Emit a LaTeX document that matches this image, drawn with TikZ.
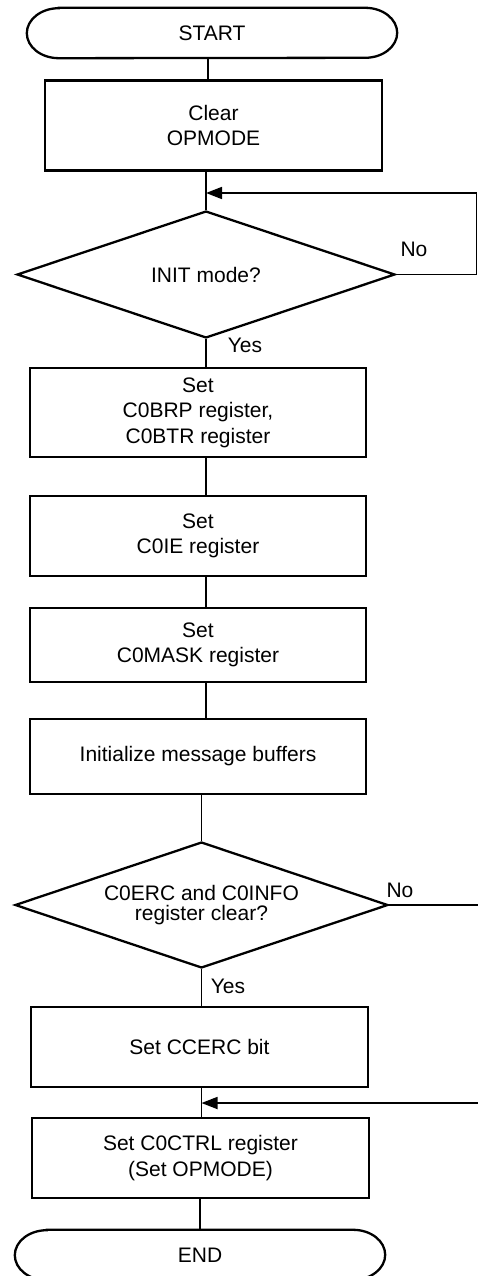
\documentclass[tikz,border=0pt]{standalone}
\usepackage{fontspec}
\setmainfont{Liberation Sans}
\usetikzlibrary{shapes.geometric,arrows.meta,calc}
\newcommand{\fsz}{\fontsize{21pt}{25.5pt}\selectfont}
\newcommand{\fszd}{\fontsize{21pt}{20pt}\selectfont}
\begin{document}
\begin{tikzpicture}[x=1pt,y=-1pt,
  box/.style={draw,line width=2.3pt,inner sep=0pt,align=center,font=\fsz},
  term/.style={inner sep=0pt,font=\fsz},
  termline/.style={line width=2.3pt},
  dec/.style={draw,diamond,aspect=3,line width=2.3pt,inner sep=0pt,align=center,font=\fszd},
  conn/.style={line width=1.1pt},
  back/.style={line width=1.7pt},
  tip/.style={-{Triangle[length=16pt,width=12pt]}},
  lbl/.style={inner sep=0pt,font=\fsz}]
\useasboundingbox (0,0) rectangle (478,1276);
\clip (0,0) rectangle (478,1276);

% terminals
\node[term,minimum width=370pt,minimum height=50pt] (start) at (212,33) {START};
\draw[termline] ($(start.north west)+(32,0)$) -- ($(start.north east)+(-32,0)$)
  arc[start angle=90,end angle=-90,x radius=32pt,y radius=25pt]
  -- ($(start.south west)+(32,0)$)
  arc[start angle=270,end angle=90,x radius=32pt,y radius=25pt] -- cycle;

\node[box,minimum width=337pt,minimum height=90pt] (clear) at (213.5,125.5) {Clear\\OPMODE};
\node[dec,minimum width=378pt,minimum height=127pt] (d1) at (206,274.5) {INIT mode?};
\node[box,minimum width=336pt,minimum height=89pt] (brp) at (198,412.5) {Set\\C0BRP register,\\C0BTR register};
\node[box,minimum width=336pt,minimum height=80pt] (ie) at (198,536) {Set\\C0IE register};
\node[box,minimum width=336pt,minimum height=74pt] (mask) at (198,645) {Set\\C0MASK register};
\node[box,minimum width=336pt,minimum height=75pt] (init) at (198,756.5) {Initialize message buffers};
\node[dec,minimum width=373pt,minimum height=126pt] (d2) at (201.5,905) {C0ERC and C0INFO\\register clear?};
\node[box,minimum width=337pt,minimum height=80pt] (ccerc) at (199.5,1047) {Set CCERC bit};
\node[box,minimum width=337pt,minimum height=80pt] (ctrl) at (200.5,1158) {Set C0CTRL register\\(Set OPMODE)};
\node[term,minimum width=370pt,minimum height=50pt] (endn) at (200,1255) {END};
\draw[termline] ($(endn.north west)+(32,0)$) -- ($(endn.north east)+(-32,0)$)
  arc[start angle=90,end angle=-90,x radius=32pt,y radius=25pt]
  -- ($(endn.south west)+(32,0)$)
  arc[start angle=270,end angle=90,x radius=32pt,y radius=25pt] -- cycle;

% connectors
\draw[conn] (start.south -| 208,0) -- (clear.north -| 208,0);
\draw[conn] (clear.south -| d1.north) -- (d1.north);
\draw[conn] (d1.south) -- (d1.south |- brp.north);
\draw[conn] (brp.south -| d1.south) -- (ie.north -| d1.south);
\draw[conn] (ie.south -| d1.south) -- (mask.north -| d1.south);
\draw[conn] (mask.south -| d1.south) -- (init.north -| d1.south);
\draw[conn] (init.south -| d2.north) -- (d2.north);
\draw[conn] (d2.south) -- (d2.south |- ccerc.north);
\draw[conn] (ccerc.south -| d2.south) -- (ctrl.north -| d2.south);
\draw[conn] (ctrl.south -| endn.north) -- (endn.north);

% loop back
\coordinate (r1) at (476.5,193);
\coordinate (j1) at (206,193);
\draw[back,tip] (d1.east) -| (r1) -- (j1);

% second branch
\coordinate (r2) at (480,905);
\draw[conn] (d2.east) -- (r2);
\coordinate (r3) at (480,1103);
\coordinate (j2) at (201.5,1103);
\draw[back,tip] (r3) -- (j2);

% labels
\node[lbl] (no1) at (414,249) {No};
\node[lbl] (yes1) at (245,345) {Yes};
\node[lbl] (no2) at (400,890) {No};
\node[lbl] (yes2) at (228,986.5) {Yes};
\end{tikzpicture}
\end{document}
